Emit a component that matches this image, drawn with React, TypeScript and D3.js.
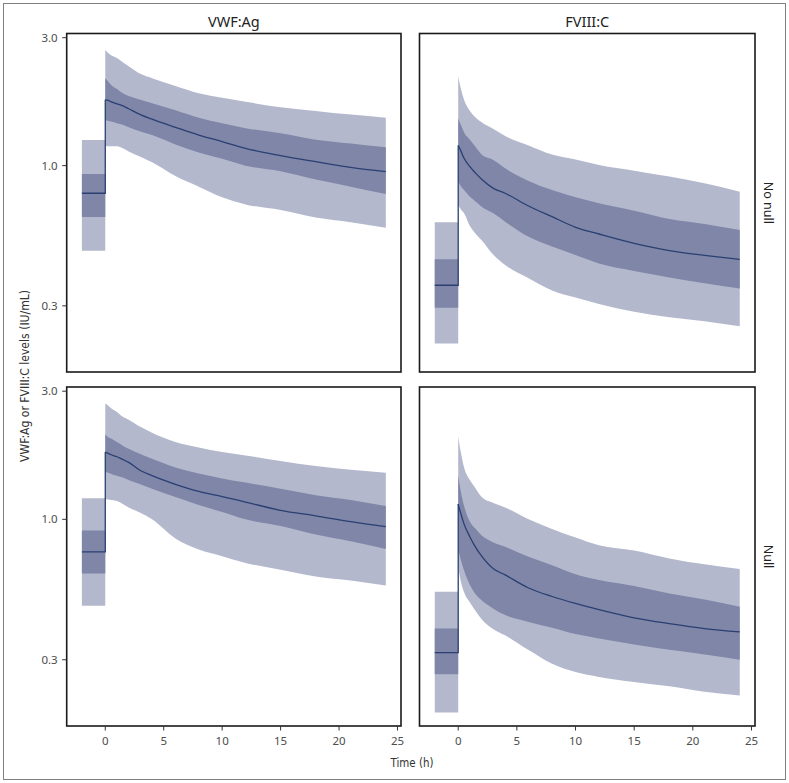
import React from "react";
import * as d3 from "d3";

// ---- data ----
const TIME = [0, 0.25, 0.5, 1, 1.5, 2, 3, 4, 6, 8, 10, 12, 15, 18, 21, 24];
const BASE_TIME = [-2, 0];
const COLUMNS = ["VWF:Ag", "FVIII:C"];
const ROWS = ["No null", "Null"];
const X_TICKS = [0, 5, 10, 15, 20, 25];
const Y_TICKS = [0.3, 1.0, 3.0];
const Y_TICK_LABELS = ["0.3", "1.0", "3.0"];

// baseline: [lo95, lo50, median, hi50, hi95]
const VWF_NONULL_BASE = [0.482, 0.644, 0.789, 0.931, 1.247];
const VWF_NONULL_LO95 = [1.19, 1.18, 1.18, 1.18, 1.16, 1.13, 1.08, 1.03, 0.915, 0.835, 0.762, 0.717, 0.683, 0.64, 0.615, 0.587];
const VWF_NONULL_LO50 = [1.48, 1.47, 1.46, 1.44, 1.42, 1.39, 1.34, 1.3, 1.2, 1.12, 1.06, 1.0, 0.952, 0.887, 0.835, 0.784];
const VWF_NONULL_MED = [1.76, 1.75, 1.73, 1.7, 1.67, 1.63, 1.55, 1.49, 1.39, 1.3, 1.23, 1.16, 1.09, 1.035, 0.986, 0.95];
const VWF_NONULL_HI50 = [2.12, 2.06, 2.0, 1.93, 1.86, 1.82, 1.76, 1.71, 1.61, 1.51, 1.44, 1.38, 1.32, 1.25, 1.21, 1.17];
const VWF_NONULL_HI95 = [2.7, 2.63, 2.58, 2.52, 2.43, 2.35, 2.2, 2.12, 1.98, 1.86, 1.79, 1.73, 1.65, 1.6, 1.55, 1.51];

const FVIII_NONULL_BASE = [0.217, 0.295, 0.358, 0.448, 0.615];
const FVIII_NONULL_LO95 = [0.713, 0.685, 0.665, 0.595, 0.556, 0.527, 0.465, 0.426, 0.38, 0.342, 0.322, 0.305, 0.285, 0.272, 0.263, 0.252];
const FVIII_NONULL_LO50 = [0.872, 0.835, 0.811, 0.766, 0.734, 0.703, 0.664, 0.618, 0.543, 0.499, 0.464, 0.432, 0.405, 0.383, 0.364, 0.348];
const FVIII_NONULL_MED = [1.19, 1.128, 1.065, 0.991, 0.936, 0.889, 0.823, 0.789, 0.707, 0.645, 0.589, 0.556, 0.513, 0.482, 0.463, 0.447];
const FVIII_NONULL_HI50 = [1.5, 1.41, 1.33, 1.25, 1.17, 1.1, 1.05, 0.977, 0.877, 0.811, 0.762, 0.724, 0.679, 0.632, 0.606, 0.575];
const FVIII_NONULL_HI95 = [2.15, 1.92, 1.76, 1.6, 1.51, 1.45, 1.37, 1.29, 1.19, 1.1, 1.055, 1.005, 0.958, 0.91, 0.859, 0.8];

const VWF_NULL_BASE = [0.477, 0.629, 0.756, 0.909, 1.199];
const VWF_NULL_LO95 = [1.19, 1.185, 1.18, 1.17, 1.14, 1.106, 1.059, 1.0, 0.849, 0.772, 0.729, 0.688, 0.649, 0.613, 0.592, 0.567];
const VWF_NULL_LO50 = [1.505, 1.49, 1.475, 1.454, 1.43, 1.4, 1.35, 1.3, 1.21, 1.13, 1.065, 1.0, 0.944, 0.878, 0.829, 0.776];
const VWF_NULL_MED = [1.78, 1.76, 1.74, 1.71, 1.67, 1.63, 1.52, 1.454, 1.35, 1.27, 1.216, 1.16, 1.08, 1.03, 0.98, 0.939];
const VWF_NULL_HI50 = [2.07, 2.02, 2.0, 1.94, 1.88, 1.83, 1.75, 1.68, 1.56, 1.48, 1.42, 1.37, 1.3, 1.23, 1.18, 1.12];
const VWF_NULL_HI95 = [2.7, 2.65, 2.59, 2.51, 2.41, 2.35, 2.21, 2.1, 1.94, 1.85, 1.78, 1.73, 1.65, 1.58, 1.53, 1.49];

const FVIII_NULL_BASE = [0.191, 0.265, 0.319, 0.392, 0.537];
const FVIII_NULL_LO95 = [0.668, 0.58, 0.535, 0.49, 0.455, 0.425, 0.39, 0.37, 0.326, 0.29, 0.27, 0.259, 0.248, 0.239, 0.228, 0.221];
const FVIII_NULL_LO50 = [0.772, 0.7, 0.645, 0.57, 0.525, 0.5, 0.465, 0.44, 0.415, 0.395, 0.374, 0.36, 0.342, 0.327, 0.314, 0.3];
const FVIII_NULL_MED = [1.14, 1.04, 0.96, 0.86, 0.785, 0.73, 0.655, 0.621, 0.555, 0.516, 0.486, 0.461, 0.43, 0.409, 0.392, 0.381];
const FVIII_NULL_HI50 = [1.455, 1.25, 1.12, 0.98, 0.92, 0.87, 0.82, 0.79, 0.725, 0.675, 0.625, 0.595, 0.565, 0.53, 0.503, 0.473];
const FVIII_NULL_HI95 = [2.03, 1.75, 1.56, 1.4, 1.3, 1.21, 1.15, 1.106, 1.0, 0.92, 0.855, 0.8, 0.765, 0.715, 0.68, 0.653];

const PANELS = [
  { row: 0, col: 0, base: VWF_NONULL_BASE, lo95: VWF_NONULL_LO95, lo50: VWF_NONULL_LO50, med: VWF_NONULL_MED, hi50: VWF_NONULL_HI50, hi95: VWF_NONULL_HI95 },
  { row: 0, col: 1, base: FVIII_NONULL_BASE, lo95: FVIII_NONULL_LO95, lo50: FVIII_NONULL_LO50, med: FVIII_NONULL_MED, hi50: FVIII_NONULL_HI50, hi95: FVIII_NONULL_HI95 },
  { row: 1, col: 0, base: VWF_NULL_BASE, lo95: VWF_NULL_LO95, lo50: VWF_NULL_LO50, med: VWF_NULL_MED, hi50: VWF_NULL_HI50, hi95: VWF_NULL_HI95 },
  { row: 1, col: 1, base: FVIII_NULL_BASE, lo95: FVIII_NULL_LO95, lo50: FVIII_NULL_LO50, med: FVIII_NULL_MED, hi50: FVIII_NULL_HI50, hi95: FVIII_NULL_HI95 },
];

// ---- layout ----
const W = 789;
const H = 783;
const COL_X = [[66.7, 401], [419.5, 755]];
const ROW_Y = [[33.5, 372], [387, 726]];
const X_DOMAIN = [-3.3, 25.3];
const Y_DOMAIN = [0.17, 3.11];

const LIGHT = "#b3b8cd";
const DARK = "#7f86a8";
const LINE = "#2a3f72";
const FONT = "'Noto Sans', 'Open Sans', sans-serif";
const NARROW = "'Liberation Sans Narrow', 'DejaVu Sans Condensed', 'Roboto', sans-serif";

function Panel({ p }: { p: (typeof PANELS)[number] }) {
  const [x0, x1] = COL_X[p.col];
  const [y0, y1] = ROW_Y[p.row];
  const x = d3.scaleLinear().domain(X_DOMAIN).range([x0, x1]);
  const y = d3.scaleLog().domain(Y_DOMAIN).range([y1, y0]);

  type Pt = { t: number; lo: number; hi: number };
  const areaSmooth = d3
    .area<Pt>()
    .x((d) => x(d.t))
    .y0((d) => y(d.lo))
    .y1((d) => y(d.hi))
    .curve(d3.curveMonotoneX);
  const areaBox = d3
    .area<Pt>()
    .x((d) => x(d.t))
    .y0((d) => y(d.lo))
    .y1((d) => y(d.hi));

  const post95: Pt[] = TIME.map((t, i) => ({ t, lo: p.lo95[i], hi: p.hi95[i] }));
  const post50: Pt[] = TIME.map((t, i) => ({ t, lo: p.lo50[i], hi: p.hi50[i] }));
  const base95: Pt[] = BASE_TIME.map((t) => ({ t, lo: p.base[0], hi: p.base[4] }));
  const base50: Pt[] = BASE_TIME.map((t) => ({ t, lo: p.base[1], hi: p.base[3] }));

  const basePts: [number, number][] = [
    ...BASE_TIME.map((t) => [t, p.base[2]] as [number, number]),
    [TIME[0], p.med[0]],
  ];
  const postPts: [number, number][] = TIME.map((t, i) => [t, p.med[i]]);
  const lineLin = d3
    .line<[number, number]>()
    .x((d) => x(d[0]))
    .y((d) => y(d[1]));
  const lineSmooth = d3
    .line<[number, number]>()
    .x((d) => x(d[0]))
    .y((d) => y(d[1]))
    .curve(d3.curveMonotoneX);

  return (
    <g>
      <path d={areaBox(base95) ?? ""} fill={LIGHT} />
      <path d={areaBox(base50) ?? ""} fill={DARK} />
      <path d={areaSmooth(post95) ?? ""} fill={LIGHT} />
      <path d={areaSmooth(post50) ?? ""} fill={DARK} />
      <path d={lineLin(basePts) ?? ""} fill="none" stroke={LINE} strokeWidth={1.3} />
      <path d={lineSmooth(postPts) ?? ""} fill="none" stroke={LINE} strokeWidth={1.3} />
      <rect x={x0} y={y0} width={x1 - x0} height={y1 - y0} fill="none" stroke="#1a1a1a" strokeWidth={1.6} />
      {p.col === 0 &&
        Y_TICKS.map((v, i) => (
          <g key={v}>
            <line x1={x0 - 4.5} x2={x0} y1={y(v)} y2={y(v)} stroke="#333" strokeWidth={1} />
            <text x={x0 - 9} y={y(v)} dy="0.35em" textAnchor="end" fontFamily={FONT} fontSize={11.5} fill="#4d4d4d">
              {Y_TICK_LABELS[i]}
            </text>
          </g>
        ))}
      {p.row === 1 &&
        X_TICKS.map((v) => (
          <g key={v}>
            <line x1={x(v)} x2={x(v)} y1={y1} y2={y1 + 4.5} stroke="#333" strokeWidth={1} />
            <text x={x(v)} y={y1 + 19} textAnchor="middle" fontFamily={FONT} fontSize={11.5} fill="#4d4d4d">
              {v}
            </text>
          </g>
        ))}
    </g>
  );
}

export default function App() {
  return (
    <svg
      width={W}
      height={H}
      viewBox={`0 0 ${W} ${H}`}
      style={{ position: "absolute", left: 0, top: 0, background: "#fff" }}
    >
      <rect x={0} y={0} width={W} height={H} fill="#fff" />
      <rect x={3.5} y={3.5} width={782} height={776} fill="none" stroke="#808080" strokeWidth={1} />
      {PANELS.map((p, i) => (
        <Panel key={i} p={p} />
      ))}
      {COLUMNS.map((c, i) => (
        <text
          key={c}
          x={(COL_X[i][0] + COL_X[i][1]) / 2}
          y={26.5}
          textAnchor="middle"
          fontFamily={FONT}
          fontSize={14.5}
          fill="#222"
        >
          {c}
        </text>
      ))}
      {ROWS.map((r, i) => {
        const cy = (ROW_Y[i][0] + ROW_Y[i][1]) / 2;
        return (
          <text
            key={r}
            transform={`translate(764,${cy}) rotate(90)`}
            textAnchor="middle"
            fontFamily={FONT}
            fontSize={12.5}
            fill="#222"
          >
            {r}
          </text>
        );
      })}
      <text
        transform={`translate(29,376) rotate(-90)`}
        textAnchor="middle"
        fontFamily={NARROW}
        fontSize={12.5}
        fill="#333"
        textLength={172}
        lengthAdjust="spacingAndGlyphs"
      >
        VWF:Ag or FVIII:C levels (IU/mL)
      </text>
      <text
        x={412}
        y={767}
        textAnchor="middle"
        fontFamily={NARROW}
        fontSize={12.5}
        fill="#333"
        textLength={43}
        lengthAdjust="spacingAndGlyphs"
      >
        Time (h)
      </text>
    </svg>
  );
}
